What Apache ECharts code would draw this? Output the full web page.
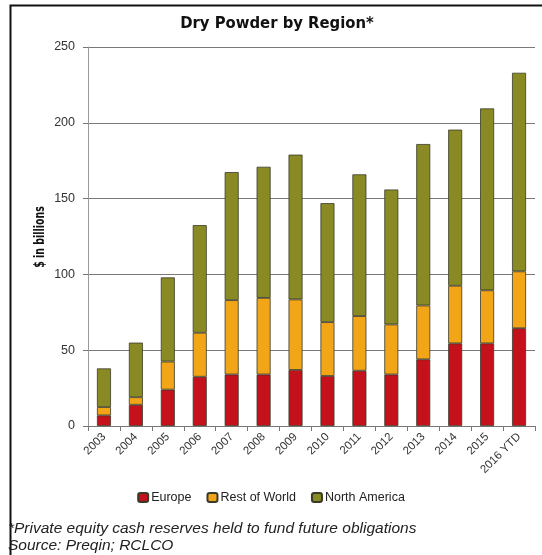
<!DOCTYPE html>
<html>
<head>
<meta charset="utf-8">
<script src="https://cdn.jsdelivr.net/npm/echarts@6/dist/echarts.min.js"></script>
<style>
  html, body { margin: 0; padding: 0; background: #fff; }
  #chart { width: 542px; height: 555px; }
</style>
</head>
<body>
<div id="chart"></div>
<script>
// Dry powder (uncalled private equity capital), $ billions, stacked by region
const years = ['2003', '2004', '2005', '2006', '2007', '2008', '2009', '2010',
               '2011', '2012', '2013', '2014', '2015', '2016 YTD'];
const europe       = [7, 14, 24, 32.5, 34, 34, 37, 33, 36.5, 34, 44, 54.5, 54.5, 64.5];
const restOfWorld  = [5.5, 5, 18.5, 29, 49, 50.5, 46.5, 35.5, 36, 33, 35.5, 38, 35, 37.5];
const northAmerica = [25.5, 36, 55.5, 71, 84.5, 86.5, 95.5, 78.5, 93.5, 89, 106.5, 103, 120, 131];
const yTicks = [0, 50, 100, 150, 200, 250];

const titleText = 'Dry Powder by Region*';
const yAxisTitle = '$ in billions';
const footnote = '*Private equity cash reserves held to fund future obligations';
const sourceLine = 'Source: Preqin; RCLCO';

const condensed = "'Liberation Sans Narrow', 'DejaVu Sans Condensed', 'Liberation Sans', sans-serif";
const sans = "'Liberation Sans', Arial, sans-serif";

const colors = { europe: '#c4111b', row: '#f3a518', na: '#8a8a24' };

function stackSeries(name, data, color) {
  return {
    name: name,
    type: 'bar',
    stack: 'total',
    data: data,
    barWidth: 14,
    itemStyle: { color: color, borderColor: '#3a3a2a', borderWidth: 0.8 },
    emphasis: { disabled: true }
  };
}

const chart = echarts.init(document.getElementById('chart'), null, { renderer: 'canvas' });

chart.setOption({
  animation: false,
  backgroundColor: '#fff',
  title: [
    {
      text: titleText,
      left: 277, top: 15, padding: 0, textAlign: 'center',
      textStyle: { fontFamily: condensed, fontWeight: 'bold', fontSize: 16.5, color: '#111' }
    },
    {
      text: footnote + '\n' + sourceLine,
      left: 8, top: 520, padding: 0,
      textStyle: { fontFamily: sans, fontStyle: 'italic', fontWeight: 'normal',
                   fontSize: 15.5, color: '#222', lineHeight: 17 }
    }
  ],
  legend: {
    data: ['Europe', 'Rest of World', 'North America'],
    left: 'center', top: 491, padding: 0,
    itemWidth: 10, itemHeight: 9, itemGap: 15,
    textStyle: { fontFamily: sans, fontSize: 12.5, color: '#222', padding: [0, 0, 0, -2] }
  },
  grid: { left: 88, right: 7, top: 47, bottom: 129, containLabel: false },
  xAxis: {
    type: 'category',
    data: years,
    axisLine: { lineStyle: { color: '#777', width: 1 } },
    axisTick: { show: true, length: 5, lineStyle: { color: '#777' } },
    axisLabel: { rotate: 45, margin: 9, fontFamily: sans, fontSize: 11.5, color: '#333' }
  },
  yAxis: {
    type: 'value',
    min: yTicks[0], max: yTicks[yTicks.length - 1], interval: 50,
    axisLine: { show: true, lineStyle: { color: '#999', width: 1 } },
    axisTick: { show: true, length: 5, lineStyle: { color: '#777' } },
    axisLabel: { margin: 13, fontFamily: sans, fontSize: 12.5, color: '#333' },
    splitLine: { lineStyle: { color: '#7a7a7a', width: 1 } }
  },
  series: [
    stackSeries('Europe', europe, colors.europe),
    stackSeries('Rest of World', restOfWorld, colors.row),
    stackSeries('North America', northAmerica, colors.na)
  ],
  graphic: [
    {
      // value axis title, set in a narrow bold face
      type: 'text',
      silent: true,
      x: 40, y: 237,
      rotation: Math.PI / 2,
      scaleX: 0.75,
      style: {
        text: yAxisTitle,
        font: "bold 14px " + condensed,
        fill: '#111',
        align: 'center',
        verticalAlign: 'middle'
      }
    },
    {
      type: 'polyline',
      silent: true,
      shape: { points: [[10.5, 556], [10.5, 5.5], [543, 5.5]] },
      style: { stroke: '#111', lineWidth: 2, fill: null }
    }
  ]
});
</script>
</body>
</html>
